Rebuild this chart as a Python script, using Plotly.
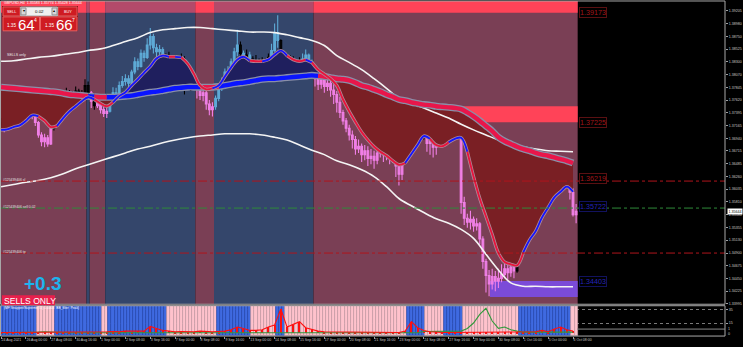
import plotly.graph_objects as go

W, H = 743, 347
def PX(x): return x / W
def PY(y): return 1 - y / H

# ---------------- price data: H4 bars, bar 0 = 24 Aug 2021 16:00 ----------------
first_open = 1.3718
close = [1.3722, 1.3716, 1.3728, 1.3745, 1.3740, 1.3758, 1.3752, 1.3748, 1.3760, 1.3742,
         1.3735, 1.3722, 1.3700, 1.3688, 1.3695, 1.3684, 1.3712, 1.3738, 1.3760, 1.3752,
         1.3768, 1.3775, 1.3762, 1.3770, 1.3778, 1.3765, 1.3772, 1.3788, 1.3775, 1.3760,
         1.3752, 1.3760, 1.3745, 1.3738, 1.3742, 1.3765, 1.3775, 1.3770, 1.3788, 1.3795,
         1.3800, 1.3792, 1.3812, 1.3830, 1.3822, 1.3845, 1.3838, 1.3860, 1.3875, 1.3855,
         1.3848, 1.3852, 1.3840, 1.3832, 1.3838, 1.3825, 1.3830, 1.3820, 1.3835, 1.3815,
         1.3800, 1.3790, 1.3795, 1.3788, 1.3770, 1.3775, 1.3755, 1.3745, 1.3750, 1.3765,
         1.3782, 1.3795, 1.3812, 1.3808, 1.3830, 1.3848, 1.3860, 1.3845, 1.3838, 1.3842,
         1.3835, 1.3828, 1.3832, 1.3822, 1.3830, 1.3825, 1.3838, 1.3850, 1.3882, 1.3868,
         1.3845, 1.3832, 1.3838, 1.3825, 1.3830, 1.3820, 1.3828, 1.3835, 1.3842, 1.3830,
         1.3815, 1.3800, 1.3790, 1.3798, 1.3786, 1.3792, 1.3780, 1.3772, 1.3758, 1.3740,
         1.3725, 1.3712, 1.3700, 1.3692, 1.3675, 1.3680, 1.3665, 1.3672, 1.3658, 1.3662,
         1.3655, 1.3668, 1.3675, 1.3665, 1.3670, 1.3660, 1.3665, 1.3645, 1.3630, 1.3650,
         1.3685, 1.3730, 1.3718, 1.3722, 1.3712, 1.3720, 1.3705, 1.3685, 1.3692, 1.3678,
         1.3682, 1.3695, 1.3708, 1.3700, 1.3712, 1.3705, 1.3715, 1.3722, 1.3580, 1.3552,
         1.3545, 1.3550, 1.3538, 1.3542, 1.3515, 1.3475, 1.3450, 1.3435, 1.3448, 1.3440,
         1.3445, 1.3452, 1.3462, 1.3455, 1.3465, 1.3458, 1.3478, 1.3495, 1.3512, 1.3525,
         1.3540, 1.3555, 1.3572, 1.3565, 1.3582, 1.3595, 1.3588, 1.3605, 1.3615, 1.3608,
         1.3625, 1.3635, 1.3622, 1.3598, 1.35583, 1.35644]
high = [1.3730, 1.3728, 1.3732, 1.3752, 1.3755, 1.3765, 1.3763, 1.3758, 1.3765, 1.3762,
        1.3748, 1.3740, 1.3725, 1.3705, 1.3702, 1.3700, 1.3715, 1.3745, 1.3772, 1.3768,
        1.3780, 1.3784, 1.3780, 1.3778, 1.3786, 1.3782, 1.3780, 1.3799, 1.3795, 1.3778,
        1.3768, 1.3770, 1.3762, 1.3750, 1.3750, 1.3770, 1.3785, 1.3784, 1.3795, 1.3805,
        1.3808, 1.3806, 1.3816, 1.3838, 1.3836, 1.3852, 1.3850, 1.3872, 1.3890, 1.3880,
        1.3862, 1.3860, 1.3856, 1.3845, 1.3848, 1.3842, 1.3840, 1.3835, 1.3845, 1.3840,
        1.3818, 1.3808, 1.3805, 1.3800, 1.3792, 1.3782, 1.3778, 1.3762, 1.3758, 1.3770,
        1.3790, 1.3802, 1.3818, 1.3822, 1.3836, 1.3855, 1.3887, 1.3866, 1.3850, 1.3852,
        1.3848, 1.3840, 1.3842, 1.3836, 1.3838, 1.3836, 1.3845, 1.3862, 1.3898, 1.3913,
        1.3870, 1.3848, 1.3845, 1.3842, 1.3840, 1.3835, 1.3838, 1.3845, 1.3852, 1.3845,
        1.3834, 1.3818, 1.3806, 1.3805, 1.3802, 1.3800, 1.3798, 1.3790, 1.3778, 1.3768,
        1.3745, 1.3730, 1.3718, 1.3708, 1.3698, 1.3692, 1.3685, 1.3682, 1.3680, 1.3675,
        1.3672, 1.3680, 1.3690, 1.3685, 1.3693, 1.3676, 1.3675, 1.3668, 1.3650, 1.3660,
        1.3690, 1.3752, 1.3742, 1.3735, 1.3728, 1.3730, 1.3725, 1.3710, 1.3705, 1.3698,
        1.3695, 1.3705, 1.3715, 1.3718, 1.3720, 1.3718, 1.3725, 1.3730, 1.3728, 1.3590,
        1.3560, 1.3565, 1.3555, 1.3552, 1.3545, 1.3520, 1.3480, 1.3460, 1.3462, 1.3458,
        1.3462, 1.3470, 1.3516, 1.3475, 1.3478, 1.3475, 1.3485, 1.3505, 1.3520, 1.3545,
        1.3552, 1.3568, 1.3585, 1.3590, 1.3595, 1.3610, 1.3605, 1.3618, 1.3630, 1.3625,
        1.3640, 1.3650, 1.3640, 1.3628, 1.3605, 1.35774]
low = [1.3712, 1.3705, 1.3710, 1.3724, 1.3730, 1.3736, 1.3744, 1.3738, 1.3745, 1.3735,
       1.3728, 1.3716, 1.3695, 1.3680, 1.3678, 1.3679, 1.3682, 1.3708, 1.3735, 1.3745,
       1.3748, 1.3760, 1.3755, 1.3756, 1.3765, 1.3755, 1.3760, 1.3768, 1.3765, 1.3748,
       1.3745, 1.3748, 1.3738, 1.3732, 1.3730, 1.3740, 1.3760, 1.3762, 1.3766, 1.3784,
       1.3788, 1.3784, 1.3788, 1.3808, 1.3815, 1.3820, 1.3830, 1.3835, 1.3852, 1.3845,
       1.3838, 1.3840, 1.3835, 1.3822, 1.3826, 1.3818, 1.3815, 1.3810, 1.3812, 1.3772,
       1.3790, 1.3778, 1.3782, 1.3765, 1.3762, 1.3760, 1.3745, 1.3735, 1.3733, 1.3745,
       1.3760, 1.3778, 1.3792, 1.3800, 1.3805, 1.3826, 1.3840, 1.3838, 1.3825, 1.3830,
       1.3825, 1.3818, 1.3822, 1.3812, 1.3815, 1.3816, 1.3822, 1.3835, 1.3848, 1.3855,
       1.3840, 1.3826, 1.3825, 1.3815, 1.3818, 1.3812, 1.3815, 1.3822, 1.3832, 1.3822,
       1.3800, 1.3786, 1.3780, 1.3782, 1.3775, 1.3778, 1.3768, 1.3755, 1.3740, 1.3730,
       1.3718, 1.3705, 1.3690, 1.3676, 1.3665, 1.3668, 1.3652, 1.3655, 1.3645, 1.3648,
       1.3640, 1.3648, 1.3660, 1.3652, 1.3655, 1.3648, 1.3650, 1.3625, 1.3610, 1.3620,
       1.3648, 1.3680, 1.3702, 1.3705, 1.3698, 1.3702, 1.3692, 1.3670, 1.3665, 1.3660,
       1.3665, 1.3678, 1.3690, 1.3692, 1.3698, 1.3695, 1.3700, 1.3710, 1.3560, 1.3540,
       1.3535, 1.3532, 1.3528, 1.3530, 1.3505, 1.3462, 1.3420, 1.3413, 1.3425, 1.3422,
       1.3428, 1.3438, 1.3445, 1.3440, 1.3448, 1.3445, 1.3455, 1.3472, 1.3490, 1.3505,
       1.3518, 1.3535, 1.3550, 1.3552, 1.3560, 1.3578, 1.3575, 1.3585, 1.3598, 1.3592,
       1.3605, 1.3615, 1.3605, 1.3585, 1.3555, 1.35428]
# candle colour per bar: P = violet (sell trend), B = sky blue (buy trend), K = black (counter)
candle_colors = ("KPK" "KPKKKKK" "PPPPPPP" "KKKKKKKKKKK" "K" "PKPPPP"
                 "BBBBBBBBBBBBBBBBBB" "KKKKKKKKKK" "PPPPPP" "BBBBBBBBKBKB" "KKKKKK" "BBB"
                 "KKKKKKK" "BBBB" "PPPPPPPPPPPPPPPPPPPPPPPPPPPPP" "KKKKKKK" "PPPP" "KKKKKKK"
                 "PPPPPPPPPPPPPPPPPP" "KKKKKKKKKKKKKKKKK" "PPP")

# moving averages, sampled every 2 bars
ma_bars = list(range(0, 185, 2))
fast_ma = [1.3709, 1.3710, 1.3714, 1.3717, 1.3725, 1.3735, 1.3733, 1.3725, 1.3714, 1.3716,
           1.3730, 1.3742, 1.3751, 1.3760, 1.3767, 1.3763, 1.3756, 1.3751, 1.3758, 1.3769,
           1.3776, 1.3788, 1.3799, 1.3811, 1.3822, 1.3836, 1.3841, 1.3839, 1.3839, 1.3838,
           1.3827, 1.3809, 1.3788, 1.3781, 1.3783, 1.3788, 1.3804, 1.3820, 1.3834, 1.3839,
           1.3832, 1.3831, 1.3831, 1.3834, 1.3843, 1.3850, 1.3841, 1.3834, 1.3831, 1.3834,
           1.3829, 1.3816, 1.3808, 1.3800, 1.3788, 1.3763, 1.3742, 1.3723, 1.3705, 1.3691,
           1.3679, 1.3670, 1.3663, 1.3654, 1.3647, 1.3650, 1.3666, 1.3682, 1.3698, 1.3693,
           1.3682, 1.3680, 1.3687, 1.3693, 1.3695, 1.3670, 1.3626, 1.3587, 1.3555, 1.3523,
           1.3490, 1.3474, 1.3470, 1.3468, 1.3491, 1.3513, 1.3529, 1.3553, 1.3571, 1.3589,
           1.3599, 1.3608, 1.3599]
slow_ma = [1.3785, 1.3784, 1.3783, 1.3782, 1.3781, 1.3780, 1.3779, 1.3778, 1.3777, 1.3776,
           1.3774, 1.3772, 1.3771, 1.3770, 1.3769, 1.3768, 1.3767, 1.3767, 1.3767, 1.3768,
           1.3769, 1.3770, 1.3772, 1.3774, 1.3776, 1.3777, 1.3779, 1.3781, 1.3783, 1.3784,
           1.3785, 1.3785, 1.3785, 1.3785, 1.3785, 1.3786, 1.3788, 1.3790, 1.3792, 1.3793,
           1.3795, 1.3797, 1.3799, 1.3800, 1.3800, 1.3801, 1.3802, 1.3803, 1.3804, 1.3805,
           1.3806, 1.3805, 1.3804, 1.3802, 1.3800, 1.3799, 1.3797, 1.3793, 1.3788, 1.3785,
           1.3781, 1.3777, 1.3772, 1.3768, 1.3763, 1.3761, 1.3758, 1.3756, 1.3754, 1.3753,
           1.3751, 1.3750, 1.3749, 1.3748, 1.3746, 1.3740, 1.3733, 1.3725, 1.3716, 1.3707,
           1.3696, 1.3689, 1.3684, 1.3679, 1.3675, 1.3672, 1.3668, 1.3665, 1.3663, 1.3660,
           1.3657, 1.3654, 1.3650]
# envelope (white) lines, sampled every 4 bars
env_bars = list(range(0, 185, 4))
upper_env = [1.3831, 1.3832, 1.3835, 1.3838, 1.3840, 1.3843, 1.3846, 1.3850, 1.3853, 1.3859,
             1.3866, 1.3873, 1.3882, 1.3887, 1.3889, 1.3891, 1.3891, 1.3889, 1.3887, 1.3885,
             1.3883, 1.3883, 1.3882, 1.3878, 1.3873, 1.3868, 1.3859, 1.3841, 1.3829, 1.3816,
             1.3800, 1.3783, 1.3765, 1.3756, 1.3748, 1.3739, 1.3730, 1.3719, 1.3709, 1.3700,
             1.3691, 1.3684, 1.3679, 1.3675, 1.3672, 1.3671, 1.3670]
lower_env = [1.3608, 1.3612, 1.3616, 1.3619, 1.3624, 1.3631, 1.3640, 1.3647, 1.3654, 1.3661,
             1.3668, 1.3675, 1.3680, 1.3686, 1.3691, 1.3695, 1.3698, 1.3700, 1.3702, 1.3702,
             1.3702, 1.3700, 1.3696, 1.3691, 1.3682, 1.3673, 1.3665, 1.3654, 1.3647, 1.3638,
             1.3626, 1.3608, 1.3587, 1.3574, 1.3562, 1.3551, 1.3543, 1.3532, 1.3516, 1.3488,
             1.3460, 1.3437, 1.3431, 1.3431, 1.3430, 1.3430, 1.3430]

# trend regime per bar range (background bands)
regime_runs = [("sell", 0, 27), ("buy", 28, 28), ("sell", 29, 33), ("buy", 34, 62),
               ("sell", 63, 68), ("buy", 69, 100), ("sell", 101, 185)]

# price levels / zones
zone_top_low = 1.39173
zone_mid = (1.37225, 1.3751)
zone_low = (1.3412, 1.34403)
sl_level, open_level, tp_level = 1.3618, 1.3570, 1.3490
tag_levels = [("1.39173", 1.39173, "red"), ("1.37225", 1.37225, "red"), ("1.36219", 1.36219, "red"),
              ("1.35722", 1.35722, "blue"), ("1.34403", 1.34403, "blue")]
bid = 1.35644
price_ticks = [1.39205, 1.38980, 1.38750, 1.38525, 1.38300, 1.38070, 1.37845, 1.37620,
               1.37395, 1.37165, 1.36940, 1.36715, 1.36485, 1.36260, 1.36035, 1.35810,
               1.35580, 1.35355, 1.35130, 1.34900, 1.34675, 1.34450, 1.34225, 1.33995]

# time axis labels (every 8 bars)
time_tick_bars = list(range(0, 185, 8))
time_tick_text = ["24 Aug 2021", "26 Aug 00:00", "27 Aug 08:00", "30 Aug 16:00", "1 Sep 00:00",
                  "2 Sep 08:00", "3 Sep 16:00", "7 Sep 00:00", "8 Sep 08:00", "9 Sep 16:00",
                  "13 Sep 00:00", "14 Sep 08:00", "15 Sep 16:00", "17 Sep 00:00", "20 Sep 08:00",
                  "21 Sep 16:00", "23 Sep 00:00", "24 Sep 08:00", "27 Sep 16:00", "29 Sep 00:00",
                  "30 Sep 08:00", "1 Oct 16:00", "5 Oct 00:00", "6 Oct 08:00"]

# ---------------- indicator sub-window ----------------
ind_runs = [("B", 0, 11), ("P", 12, 17), ("B", 18, 32), ("P", 33, 34), ("B", 35, 53),
            ("P", 54, 69), ("B", 70, 80), ("P", 81, 88), ("B", 89, 91), ("P", 92, 130),
            ("B", 131, 136), ("P", 137, 142), ("B", 143, 148), ("P", 149, 166),
            ("B", 167, 183), ("P", 184, 185)]
ind_red = [1, 1, 1.5, 1, 1, 1.5, 1, 1, 1, 1.5, 1, 1, 1.5, 1, 1, 1.5,
           2, 2, 2.5, 2, 3, 2.5, 3,
           3, 10, 7, 4, 3,
           2, 2.5, 2, 2, 3, 2, 2, 2.5,
           3, 5, 9, 7, 4, 4, 5, 9, 12, 36, 9, 13, 17, 8, 5, 3,
           2, 2, 1.5,
           1, 1, 1, 1, 1, 1, 1, 1, 1, 1,
           3, 17, 8, 4, 2,
           1, 1, 1, 1, 1, 1, 1, 1, 1, 1, 1, 1, 1, 1, 1, 1,
           2, 4, 2, 6, 9, 5, 3]
ind_green = ([0.5] * 6 + [1.5, 2, 1.5] + [0.5] * 59 + [2.5, 2.5, 3, 2.5, 3, 2.5, 3]
             + [7, 15, 28, 37, 18, 7, 9, 5, 3] + [1.5] * 9)

# ---------------- derived helpers ----------------
nbars = len(close)
bars = list(range(nbars))
opens = [first_open] + close[:-1]

regime = [None] * nbars
for name, a, b in regime_runs:
    for k in range(a, b + 1):
        regime[k] = name
ind_state = [None] * nbars
for name, a, b in ind_runs:
    for k in range(a, b + 1):
        ind_state[k] = name

C_SELL_BG = "#7a3f55"
C_BUY_BG = "#34466b"
C_RED = "#ff4358"
C_PINKSTRIP = "#b34a6a"
C_VIOLET = "#f07fe6"
C_SKY = "#5eaad6"

fig = go.Figure()

# --- fills between fast and slow MA ---
lo_fill = [min(f, s) for f, s in zip(fast_ma, slow_ma)]
hi_fill = [max(f, s) for f, s in zip(fast_ma, slow_ma)]
fig.add_trace(go.Scatter(x=ma_bars, y=slow_ma, mode="lines", line=dict(width=0, shape="spline"),
                         hoverinfo="skip", showlegend=False))
fig.add_trace(go.Scatter(x=ma_bars, y=lo_fill, mode="lines", line=dict(width=0, shape="spline"),
                         fill="tonexty", fillcolor="#7a1f24", hoverinfo="skip", showlegend=False))
fig.add_trace(go.Scatter(x=ma_bars, y=slow_ma, mode="lines", line=dict(width=0, shape="spline"),
                         hoverinfo="skip", showlegend=False))
fig.add_trace(go.Scatter(x=ma_bars, y=hi_fill, mode="lines", line=dict(width=0, shape="spline"),
                         fill="tonexty", fillcolor="#1f1f5e", hoverinfo="skip", showlegend=False))

# --- envelopes ---
for env in (upper_env, lower_env):
    fig.add_trace(go.Scatter(x=env_bars, y=env, mode="lines",
                             line=dict(color="#f4f4f4", width=1.6, shape="spline"),
                             hoverinfo="skip", showlegend=False))


def split_segments(xs, ys, flags):
    segs = []
    start = 0
    for k in range(1, len(xs) + 1):
        if k == len(xs) or flags[k] != flags[start]:
            end = min(k + 1, len(xs))
            segs.append((flags[start], xs[start:end], ys[start:end]))
            start = k
    return segs

# --- slow MA (thick, coloured by regime) ---
slow_flags = [regime[b] for b in ma_bars]
for flag, sx, sy in split_segments(ma_bars, slow_ma, slow_flags):
    fig.add_trace(go.Scatter(x=sx, y=sy, mode="lines", line=dict(color="#8a8fa8", width=7, shape="spline"),
                             hoverinfo="skip", showlegend=False))
for flag, sx, sy in split_segments(ma_bars, slow_ma, slow_flags):
    fig.add_trace(go.Scatter(x=sx, y=sy, mode="lines",
                             line=dict(color="#e8164a" if flag == "sell" else "#0a14ff", width=4.4, shape="spline"),
                             hoverinfo="skip", showlegend=False))

# --- candles ---
for code, col, edge in (("P", C_VIOLET, C_VIOLET), ("B", C_SKY, C_SKY), ("K", "#0c0c0c", "#000000")):
    sel = [candle_colors[k] == code for k in bars]
    fig.add_trace(go.Candlestick(
        x=bars,
        open=[o if s else None for o, s in zip(opens, sel)],
        high=[h if s else None for h, s in zip(high, sel)],
        low=[l if s else None for l, s in zip(low, sel)],
        close=[c if s else None for c, s in zip(close, sel)],
        increasing=dict(line=dict(color=edge, width=1.1), fillcolor=col),
        decreasing=dict(line=dict(color=edge, width=1.1), fillcolor=col),
        whiskerwidth=0, hoverinfo="skip", showlegend=False))

# --- fast MA (thin, blue rising / red falling) ---
fast_flags = []
for k in range(len(fast_ma)):
    d = fast_ma[k] - fast_ma[k - 1] if k > 0 else fast_ma[1] - fast_ma[0]
    fast_flags.append("up" if d >= 0 else "down")
for flag, sx, sy in split_segments(ma_bars, fast_ma, fast_flags):
    fig.add_trace(go.Scatter(x=sx, y=sy, mode="lines", line=dict(color="#b08898", width=3.4, shape="spline"),
                             hoverinfo="skip", showlegend=False))
for flag, sx, sy in split_segments(ma_bars, fast_ma, fast_flags):
    fig.add_trace(go.Scatter(x=sx, y=sy, mode="lines",
                             line=dict(color="#1414ff" if flag == "up" else "#e8143c", width=1.8, shape="spline"),
                             hoverinfo="skip", showlegend=False))

# --- indicator window ---
ind_col = ["#ffc2cc" if s == "P" else "#3f6ae0" for s in ind_state]
ind_edge = ["#caa0aa" if s == "P" else "#2c4eb4" for s in ind_state]
fig.add_trace(go.Bar(x=bars, y=[45.5] * nbars, base=-4.5, width=1.0,
                     marker=dict(color=ind_col, line=dict(color=ind_edge, width=0.7)),
                     xaxis="x2", yaxis="y2", hoverinfo="skip", showlegend=False))
fig.add_trace(go.Bar(x=ma_bars, y=ind_red, base=0, width=0.35, marker=dict(color="#ff1010", line=dict(width=0)),
                     xaxis="x2", yaxis="y2", hoverinfo="skip", showlegend=False))
fig.add_trace(go.Scatter(x=ma_bars, y=ind_green, mode="lines", line=dict(color="#2f9a3a", width=1.1),
                         xaxis="x2", yaxis="y2", hoverinfo="skip", showlegend=False))
fig.add_trace(go.Scatter(x=ma_bars, y=ind_red, mode="lines", line=dict(color="#ff1010", width=1.1),
                         xaxis="x2", yaxis="y2", hoverinfo="skip", showlegend=False))

# ---------------- shapes ----------------
shapes = []
main_y0, main_y1 = PY(306), PY(1)
for name, a, b in regime_runs:
    shapes.append(dict(type="rect", xref="x", yref="paper", x0=a - 0.5, x1=b + 0.5, y0=main_y0, y1=main_y1,
                       fillcolor=C_SELL_BG if name == "sell" else C_BUY_BG, line=dict(width=0), layer="below"))
    shapes.append(dict(type="rect", xref="x", yref="y", x0=a - 0.5, x1=b + 0.5, y0=zone_top_low, y1=1.3945,
                       fillcolor=C_RED if name == "sell" else C_PINKSTRIP, line=dict(width=0), layer="below"))
shapes.append(dict(type="rect", xref="x", yref="y", x0=147.6, x1=185.5, y0=zone_mid[0], y1=zone_mid[1],
                   fillcolor=C_RED, line=dict(width=0), layer="below"))
shapes.append(dict(type="rect", xref="x", yref="y", x0=157.3, x1=185.5, y0=zone_low[0], y1=zone_low[1],
                   fillcolor="#7b4bd8", line=dict(width=0), layer="below"))
for lvl, col in ((sl_level, "#b0141c"), (open_level, "#2e8b3a"), (tp_level, "#b0141c")):
    shapes.append(dict(type="line", xref="paper", yref="y", x0=0, x1=PX(725), y0=lvl, y1=lvl,
                       line=dict(color=col, width=1, dash="dashdot")))
# frames
shapes.append(dict(type="rect", xref="paper", yref="paper", x0=PX(0.5), x1=PX(725), y0=PY(306), y1=PY(1),
                   line=dict(color="#a8a8a8", width=1)))
shapes.append(dict(type="rect", xref="paper", yref="paper", x0=PX(0.5), x1=PX(725), y0=PY(338), y1=PY(307.5),
                   line=dict(color="#a8a8a8", width=1)))
shapes.append(dict(type="line", xref="paper", yref="paper", x0=PX(577), x1=PX(725), y0=PY(331), y1=PY(331),
                   line=dict(color="#8a8a8a", width=1)))

# trade panel (top-left)
def prect(x0, y0, x1, y1, fill, line=None):
    shapes.append(dict(type="rect", xref="paper", yref="paper", x0=PX(x0), x1=PX(x1), y0=PY(y1), y1=PY(y0),
                       fillcolor=fill, line=dict(color=line or fill, width=1 if line else 0)))
prect(2, 6, 78, 31, "#8e1216")
prect(3, 7, 20, 16, "#cf1b22", "#e05a5a")
prect(58, 7, 77, 16, "#cf1b22", "#e05a5a")
prect(20.5, 7, 57.5, 16, "#f0f0f0", "#b0b0b0")
prect(21, 8, 26, 15, "#d8d8d8", "#909090")
prect(52, 8, 57, 15, "#d8d8d8", "#909090")
prect(3, 17, 39.5, 31, "#cf1b22", "#e86060")
prect(40.5, 17, 77, 31, "#cf1b22", "#e86060")
# SELLS ONLY badge
prect(2, 297, 55, 307, "#e8204c")

# ---------------- annotations ----------------
ann = []
FONT = "Liberation Sans, Arial, sans-serif"
def text(x, y, s, size, color, anchor="left", bold=False, bg=None, border=None, yanchor="middle"):
    ann.append(dict(xref="paper", yref="paper", x=PX(x), y=PY(y), text=("<b>%s</b>" % s) if bold else s,
                    showarrow=False, xanchor=anchor, yanchor=yanchor,
                    font=dict(family=FONT, size=size, color=color),
                    bgcolor=bg, bordercolor=border, borderwidth=1 if border else 0, borderpad=0))

text(4, 3, "GBPUSD,H4  1.35583 1.35774 1.35428 1.35644", 3.6, "#ffffff")
text(11.5, 11.8, "SELL", 3.8, "#ffffff", "center")
text(67.5, 11.8, "BUY", 3.8, "#ffffff", "center")
text(39, 11.8, "0.02", 4.4, "#000000", "center")
text(23.5, 11.5, "▾", 3.5, "#000000", "center")
text(54.5, 11.5, "▴", 3.5, "#000000", "center")
text(7, 26, "1.35", 4.6, "#ffffff")
text(17.5, 24.5, "64", 15, "#ffffff")
text(33.5, 20.5, "4", 5, "#ffffff")
text(45, 26, "1.35", 4.6, "#ffffff")
text(55.5, 24.5, "66", 15, "#ffffff")
text(71.5, 20.5, "7", 5, "#ffffff")
text(7, 55.5, "SELLS only", 3.6, "#e8e8e8")
text(3, 181, "#125439406 sl", 3.4, "#e0e0e0")
text(3, 208, "#125439406 sell 0.02", 3.4, "#e0e0e0")
text(3, 253, "#125439406 tp", 3.4, "#e0e0e0")
text(24, 285, "+0.3", 19, "#1cb4ee", bold=True)
text(3.5, 302.3, "SELLS ONLY", 8.6, "#ffffff")
text(4, 310.2, "(MF Snapper/Supreme(72) 1.0003  BB_filter  Peak)", 3.3, "#ffffff")
text(728, 330.5, "1", 3.6, "#c8c8c8")
text(728, 335.8, "0", 3.6, "#c8c8c8")

for label, lvl, col in tag_levels:
    tc, bc = ("#a3161b", "#5a1012") if col == "red" else ("#2424b8", "#12125e")
    ann.append(dict(xref="paper", yref="y", x=PX(579), y=lvl, text=label, showarrow=False,
                    xanchor="left", yanchor="middle", font=dict(family=FONT, size=7.2, color=tc),
                    bgcolor="#000000", bordercolor=bc, borderwidth=1, borderpad=0))
ann.append(dict(xref="paper", yref="y", x=PX(726.5), y=bid, text="1.35644", showarrow=False,
                xanchor="left", yanchor="middle", font=dict(family=FONT, size=3.6, color="#000000"),
                bgcolor="#ffffff", borderpad=0.5))

y_main_range = [1.33990, 1.393817]
fig.update_layout(
    width=W, height=H, margin=dict(l=0, r=0, t=0, b=0),
    paper_bgcolor="#000000", plot_bgcolor="#000000",
    showlegend=False, barmode="overlay", bargap=0, boxgap=0.2,
    shapes=shapes, annotations=ann,
    xaxis=dict(domain=[0, PX(725)], range=[-0.35, 232.9], showticklabels=False, showgrid=False,
               zeroline=False, rangeslider=dict(visible=False), anchor="y", fixedrange=True),
    yaxis=dict(domain=[PY(306), PY(1)], range=y_main_range, side="right", tickvals=price_ticks,
               tickformat=".5f", tickfont=dict(family=FONT, size=3.6, color="#c8c8c8"),
               ticks="outside", ticklen=2, tickcolor="#a0a0a0", showgrid=False, zeroline=False,
               anchor="x", fixedrange=True),
    xaxis2=dict(domain=[0, PX(725)], matches="x", anchor="y2", tickvals=time_tick_bars,
                ticktext=time_tick_text, ticks="outside", ticklen=2, tickcolor="#a0a0a0",
                ticklabelposition="outside right", tickangle=0,
                tickfont=dict(family=FONT, size=3.5, color="#c8c8c8"), showgrid=False, zeroline=False),
    yaxis2=dict(domain=[PY(338), PY(307.5)], range=[-4.4, 40.8], side="right", tickvals=[35, 15],
                ticktext=["35", "15"], tickfont=dict(family=FONT, size=3.6, color="#c8c8c8"),
                ticks="outside", ticklen=2, tickcolor="#a0a0a0", showgrid=True, gridcolor="#7a7a7a",
                griddash="dot", gridwidth=1, zeroline=False, anchor="x2"),
)

fig.write_html("out.html")
